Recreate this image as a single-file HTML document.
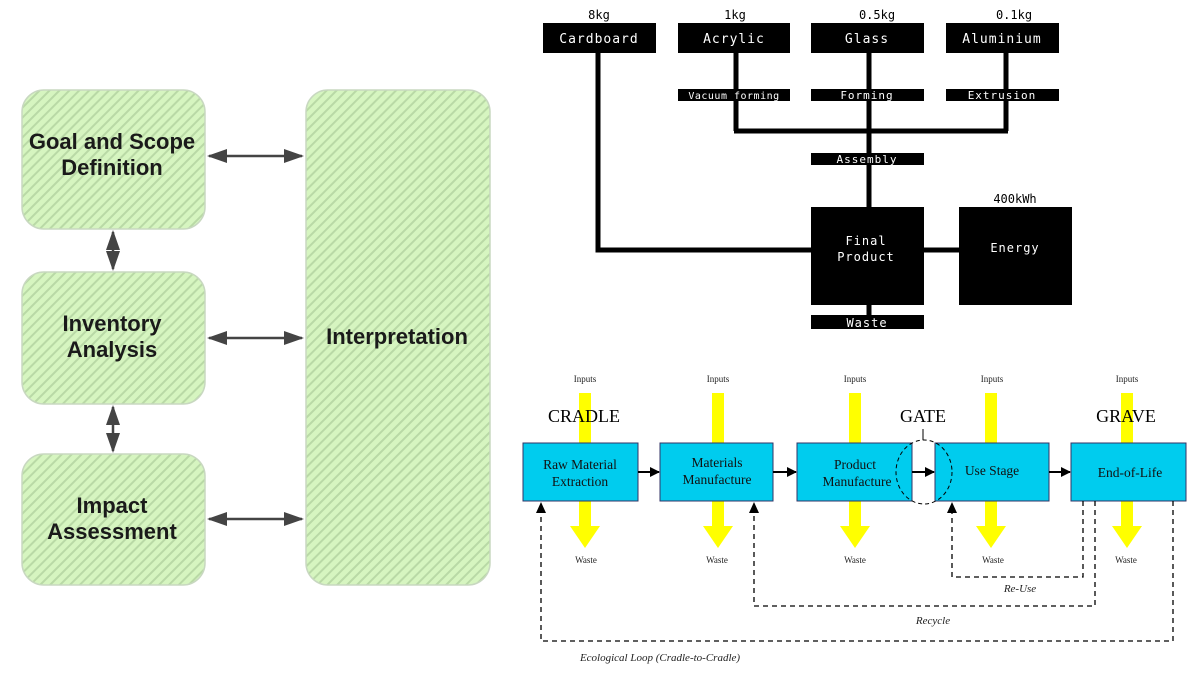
<!DOCTYPE html>
<html><head><meta charset="utf-8"><style>
html,body{margin:0;padding:0;background:#fff;}
svg{display:block}
</style></head><body>
<svg width="1200" height="675" viewBox="0 0 1200 675" xmlns="http://www.w3.org/2000/svg">
<defs>
<pattern id="hatch" width="7" height="7" patternUnits="userSpaceOnUse" patternTransform="rotate(45)">
<rect width="7" height="7" fill="#d6f5c0"/>
<rect width="2" height="7" fill="#b9d9a6"/>
</pattern>
<marker id="ah2" markerWidth="10" markerHeight="10" refX="9" refY="5" orient="auto-start-reverse" markerUnits="userSpaceOnUse">
<path d="M0,0 L10,5 L0,10 Z" fill="#000"/>
</marker>
<marker id="big" markerWidth="20" markerHeight="14" refX="18" refY="7" orient="auto-start-reverse" markerUnits="userSpaceOnUse">
<path d="M0,0 L20,7 L0,14 Z" fill="#444"/>
</marker>
</defs>

<!-- Left LCA diagram -->
<g stroke="#c8d8c0" stroke-width="1.5" fill="url(#hatch)">
<rect x="22" y="90" width="183" height="139" rx="22"/>
<rect x="22" y="272" width="183" height="132" rx="22"/>
<rect x="22" y="454" width="183" height="131" rx="22"/>
<rect x="306" y="90" width="184" height="495" rx="22"/>
</g>
<g font-family="Liberation Sans, sans-serif" font-weight="bold" font-size="22" fill="#1a1a1a" text-anchor="middle">
<text x="112" y="149">Goal and Scope</text>
<text x="112" y="175">Definition</text>
<text x="112" y="331">Inventory</text>
<text x="112" y="357">Analysis</text>
<text x="112" y="513">Impact</text>
<text x="112" y="539">Assessment</text>
<text x="397" y="344">Interpretation</text>
</g>
<g stroke="#444" stroke-width="2.5">
<line x1="209" y1="156" x2="302" y2="156" marker-start="url(#big)" marker-end="url(#big)"/>
<line x1="209" y1="338" x2="302" y2="338" marker-start="url(#big)" marker-end="url(#big)"/>
<line x1="209" y1="519" x2="302" y2="519" marker-start="url(#big)" marker-end="url(#big)"/>
<line x1="113" y1="232" x2="113" y2="269" marker-start="url(#big)" marker-end="url(#big)"/>
<line x1="113" y1="407" x2="113" y2="451" marker-start="url(#big)" marker-end="url(#big)"/>
</g>

<!-- Top right black diagram -->
<g stroke="#000" stroke-width="5" fill="none">
<polyline points="598,53 598,250 811,250"/>
<line x1="736" y1="53" x2="736" y2="131"/>
<line x1="1006" y1="53" x2="1006" y2="131"/>
<line x1="734" y1="131" x2="1008" y2="131"/>
<line x1="869" y1="53" x2="869" y2="207"/>
<line x1="869" y1="305" x2="869" y2="315"/>
<line x1="924" y1="250" x2="959" y2="250"/>
</g>
<g fill="#000">
<rect x="543" y="23" width="113" height="30"/>
<rect x="678" y="23" width="112" height="30"/>
<rect x="811" y="23" width="113" height="30"/>
<rect x="946" y="23" width="113" height="30"/>
<rect x="678" y="89" width="112" height="12"/>
<rect x="811" y="89" width="113" height="12"/>
<rect x="946" y="89" width="113" height="12"/>
<rect x="811" y="153" width="113" height="12"/>
<rect x="811" y="207" width="113" height="98"/>
<rect x="959" y="207" width="113" height="98"/>
<rect x="811" y="315" width="113" height="14"/>
</g>
<g font-family="DejaVu Sans Mono, Liberation Mono, monospace" font-size="13" fill="#fff" text-anchor="middle" letter-spacing="1">
<text x="599" y="43">Cardboard</text>
<text x="734" y="43">Acrylic</text>
<text x="867" y="43">Glass</text>
<text x="1002" y="43">Aluminium</text>
<text x="734" y="99" font-size="10" letter-spacing="0.5">Vacuum forming</text>
<text x="867" y="99" font-size="11">Forming</text>
<text x="1002" y="99" font-size="11">Extrusion</text>
<text x="867" y="163" font-size="11">Assembly</text>
<text x="866" y="245" font-size="12">Final</text>
<text x="866" y="261" font-size="12">Product</text>
<text x="1015" y="252" font-size="12">Energy</text>
<text x="867" y="327" font-size="12">Waste</text>
</g>
<g font-family="DejaVu Sans Mono, Liberation Mono, monospace" font-size="12" fill="#000" text-anchor="middle">
<text x="599" y="19">8kg</text>
<text x="735" y="19">1kg</text>
<text x="877" y="19">0.5kg</text>
<text x="1014" y="19">0.1kg</text>
<text x="1015" y="203">400kWh</text>
</g>

<!-- Bottom right lifecycle diagram -->
<g fill="#ffff00">
<rect x="579" y="393" width="12" height="135"/><polygon points="570,526 600,526 585,548"/>
<rect x="712" y="393" width="12" height="135"/><polygon points="703,526 733,526 718,548"/>
<rect x="849" y="393" width="12" height="135"/><polygon points="840,526 870,526 855,548"/>
<rect x="985" y="393" width="12" height="135"/><polygon points="976,526 1006,526 991,548"/>
<rect x="1121" y="393" width="12" height="135"/><polygon points="1112,526 1142,526 1127,548"/>
</g>
<g font-family="Liberation Serif, serif" font-size="18" fill="#000" text-anchor="middle">
<text x="584" y="422">CRADLE</text>
<text x="923" y="422">GATE</text>
<text x="1126" y="422">GRAVE</text>
</g>
<line x1="923" y1="429" x2="923" y2="440" stroke="#000" stroke-width="1"/>
<g fill="#00ccee" stroke="#336" stroke-width="1">
<rect x="523" y="443" width="115" height="58"/>
<rect x="660" y="443" width="113" height="58"/>
<rect x="797" y="443" width="115" height="58"/>
<rect x="935" y="443" width="114" height="58"/>
<rect x="1071" y="443" width="115" height="58"/>
</g>
<ellipse cx="924" cy="472" rx="28" ry="32" fill="none" stroke="#000" stroke-width="1" stroke-dasharray="4,3"/>
<g stroke="#000" stroke-width="2">
<line x1="638" y1="472" x2="659" y2="472" marker-end="url(#ah2)"/>
<line x1="773" y1="472" x2="796" y2="472" marker-end="url(#ah2)"/>
<line x1="912" y1="472" x2="934" y2="472" marker-end="url(#ah2)"/>
<line x1="1049" y1="472" x2="1070" y2="472" marker-end="url(#ah2)"/>
</g>
<g stroke="#000" stroke-width="1.3" fill="none" stroke-dasharray="5,4">
<polyline points="1083,501 1083,577 952,577 952,505"/>
<polyline points="1095,501 1095,606 754,606 754,505"/>
<polyline points="1173,501 1173,641 541,641 541,505"/>
</g>
<g fill="#000">
<polygon points="947,513 957,513 952,502"/>
<polygon points="749,513 759,513 754,502"/>
<polygon points="536,513 546,513 541,502"/>
</g>
<g font-family="Liberation Serif, serif" font-size="13.5" fill="#111" text-anchor="middle">
<text x="580" y="469">Raw Material</text>
<text x="580" y="486">Extraction</text>
<text x="717" y="467">Materials</text>
<text x="717" y="484">Manufacture</text>
<text x="855" y="469">Product</text>
<text x="857" y="486">Manufacture</text>
<text x="992" y="475">Use Stage</text>
<text x="1130" y="477">End-of-Life</text>
</g>
<g font-family="Liberation Serif, serif" font-size="9" fill="#222" text-anchor="middle">
<text x="585" y="382">Inputs</text><text x="718" y="382">Inputs</text><text x="855" y="382">Inputs</text>
<text x="992" y="382">Inputs</text><text x="1127" y="382">Inputs</text>
<text x="586" y="563">Waste</text><text x="717" y="563">Waste</text><text x="855" y="563">Waste</text>
<text x="993" y="563">Waste</text><text x="1126" y="563">Waste</text>
</g>
<g font-family="Liberation Serif, serif" font-size="11" font-style="italic" fill="#222" text-anchor="middle">
<text x="1020" y="592">Re-Use</text>
<text x="933" y="624">Recycle</text>
<text x="660" y="661">Ecological Loop (Cradle-to-Cradle)</text>
</g>
</svg>
</body></html>
